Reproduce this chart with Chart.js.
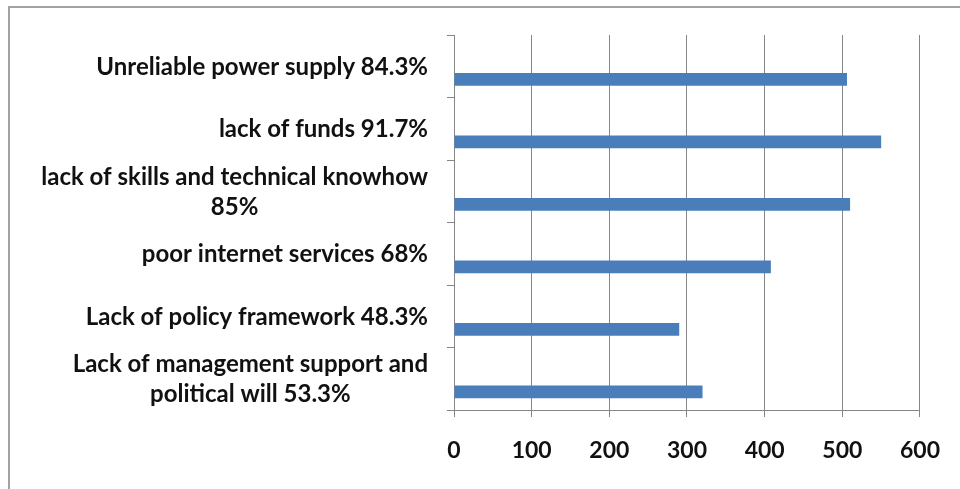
<!DOCTYPE html>
<html>
<head>
<meta charset="utf-8">
<script src="https://cdn.jsdelivr.net/npm/chart.js@4"></script>
<style>
html, body { margin: 0; padding: 0; background: #fff; }
#wrap { width: 960px; height: 489px; }
</style>
</head>
<body>
<div id="wrap"><canvas id="barras"></canvas></div>
<script>
const categorias = [
    ['Unreliable power supply 84.3%'],
    ['lack of funds 91.7%'],
    ['lack of skills and technical knowhow', '85%'],
    ['poor internet services 68%'],
    ['Lack of policy framework 48.3%'],
    ['Lack of management support and', 'political will 53.3%']
];
const respuestas = [506, 550, 510, 408, 290, 320];
const vacia = [null, null, null, null, null, null];
const ejeX = { min: 0, max: 600, paso: 100 };

const gris = '#868686';
const fuenteEje = { family: 'Lato', weight: 'bold', size: 23 };
const fuenteCat = { family: 'Lato', weight: 'bold', size: 24 };

// frame of the chart (top and left edges only)
const marco = {
    id: 'marco',
    beforeDraw(chart) {
        const c = chart.ctx;
        c.save();
        c.strokeStyle = '#a2a2a2';
        c.lineWidth = 2;
        c.beginPath();
        c.moveTo(9, chart.height);
        c.lineTo(9, 7);
        c.lineTo(chart.width, 7);
        c.stroke();
        c.restore();
    }
};

// category labels: block right aligned, each line centred in the block
const etiquetas = {
    id: 'etiquetas',
    afterDraw(chart) {
        const c = chart.ctx;
        const y = chart.scales.y;
        const alto = 30;
        c.save();
        c.font = 'bold ' + fuenteCat.size + 'px ' + fuenteCat.family;
        c.fillStyle = '#111';
        c.textAlign = 'center';
        c.textBaseline = 'middle';
        categorias.forEach((lineas, i) => {
            const ancho = Math.max(...lineas.map(l => c.measureText(l).width));
            const cx = y.left + y.width - 26 - ancho / 2;
            const y0 = y.getPixelForValue(i) + 1 - (lineas.length - 1) * alto / 2;
            lineas.forEach((l, k) => c.fillText(l, cx, y0 + k * alto));
        });
        c.restore();
    }
};

new Chart(document.getElementById('barras'), {
    type: 'bar',
    data: {
        labels: categorias,
        datasets: [
            { data: vacia, backgroundColor: '#4a7ebb' },
            {
                data: respuestas,
                backgroundColor: '#4a7ebb',
                borderWidth: 0
            }
        ]
    },
    options: {
        indexAxis: 'y',
        responsive: true,
        maintainAspectRatio: false,
        animation: false,
        categoryPercentage: 0.84,
        barPercentage: 0.49,
        layout: { padding: { top: 35, right: 39, bottom: 0, left: 0 } },
        plugins: {
            legend: { display: false },
            tooltip: { enabled: false }
        },
        scales: {
            x: {
                min: ejeX.min,
                max: ejeX.max,
                ticks: { stepSize: ejeX.paso, color: '#111', font: fuenteEje, padding: 20 },
                grid: { color: gris, lineWidth: 1, tickLength: 7 },
                border: { color: gris, width: 1 },
                afterFit(s) { s.height = 79; }
            },
            y: {
                ticks: { display: false },
                grid: { color: gris, drawOnChartArea: false, tickLength: 7, offset: true },
                border: { color: gris, width: 1 },
                afterFit(s) { s.width = 454; }
            }
        }
    },
    plugins: [marco, etiquetas]
});
</script>
</body>
</html>
